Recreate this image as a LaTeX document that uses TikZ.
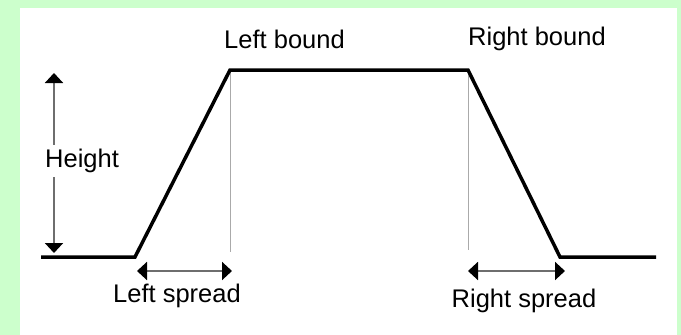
\documentclass[tikz,border=0pt]{standalone}
\usepackage{fontspec}
\setmainfont{Liberation Sans}
\usetikzlibrary{arrows.meta}
\definecolor{bggreen}{RGB}{204,255,204}
\definecolor{guide}{RGB}{170,170,170}
\definecolor{shaft}{RGB}{110,110,110}
\tikzset{
  lbl/.style={font=\fontsize{25.5}{28}\selectfont, inner sep=1pt},
  profile/.style={line width=3.5pt, line join=miter, black},
  guideline/.style={guide, line width=1pt},
  tiphead/.style={Triangle[length=10pt,width=18pt,color=black,fill=black]},
  dimarrow/.style={shaft, line width=2pt, {Triangle[length=10pt,width=18pt,color=black,fill=black]}-{Triangle[length=10pt,width=18pt,color=black,fill=black]}},
}
\begin{document}
\begin{tikzpicture}[x=1pt,y=-1pt]
\fill[bggreen] (0,0) rectangle (681,335);
\fill[white] (20,8) rectangle (677,335);
\useasboundingbox (0,0) rectangle (681,335);
% profile points
\coordinate (p0) at (41,257);
\coordinate (p1) at (135,257);
\coordinate (p2) at (230,70);
\coordinate (p3) at (468,70);
\coordinate (p4) at (560,257);
\coordinate (p5) at (656,257);
\coordinate (g1) at (230,252);
\coordinate (g2) at (468,250);
\draw[guideline] (p2) -- (g1);
\draw[guideline] (p3) -- (g2);
\draw[profile] (p0) -- (p1) -- (p2) -- (p3) -- (p4) -- (p5);
% labels
\node[lbl] (lb) at (284.5,39) {Left bound};
\node[lbl] (rb) at (537,39) {Right bound};
\node[lbl] (ls) at (177,296) {Left spread};
\node[lbl] (rs) at (524,301) {Right spread};
% height arrow
\coordinate (h0) at (54,73);
\coordinate (h1) at (54,253);
\draw[dimarrow] (h0) -- (h1);
\node[lbl, fill=white, anchor=west, inner ysep=4pt] (ht) at (44,161) {Height};
% spread arrows
\coordinate (l0) at (137,271);
\coordinate (l1) at (232,271);
\draw[dimarrow] (l0) -- (l1);
\coordinate (r0) at (468,271);
\coordinate (r1) at (565,271);
\draw[dimarrow] (r0) -- (r1);
\end{tikzpicture}
\end{document}
